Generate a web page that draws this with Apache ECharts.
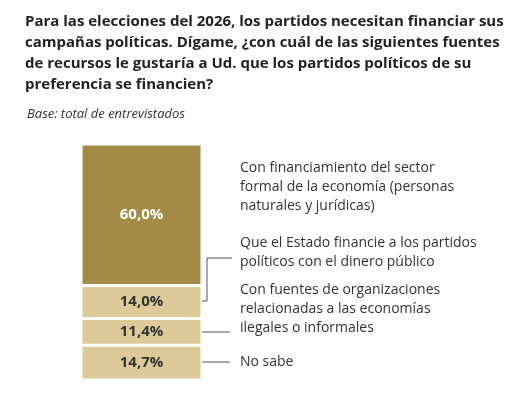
<!DOCTYPE html><html><head><meta charset="utf-8"><script src="https://cdn.jsdelivr.net/npm/echarts@6/dist/echarts.min.js"></script></head><body style="margin:0;background:#fff"><div id="c" style="width:517px;height:402px"></div><script>
const categories=['No sabe','Con fuentes de organizaciones\nrelacionadas a las economías\nilegales o informales','Que el Estado financie a los partidos\npolíticos con el dinero público','Con financiamiento del sector\nformal de la economía (personas\nnaturales y jurídicas)'];
const values=[14.7,11.4,14.0,60.0];
const labels=['14,7%','11,4%','14,0%','60,0%'];
const ch=echarts.init(document.getElementById('c'));
const series=values.map((v,i)=>({type:'bar',stack:'a',barWidth:'100%',data:[v],
 itemStyle:{color:i==3?'#a38a45':'#dccb98',borderColor:'#fff',borderWidth:1.5},
 label:{show:true,position:'inside',formatter:labels[i],fontFamily:'Open Sans',fontWeight:'bold',fontSize:15,color:i==3?'#fff':'#333'}}));
ch.setOption({animation:false,
 title:[{text:'Para las elecciones del 2026, los partidos necesitan financiar sus\ncampañas políticas. Dígame, ¿con cuál de las siguientes fuentes\nde recursos le gustaría a Ud. que los partidos políticos de su\npreferencia se financien?',left:20,top:6,textStyle:{fontFamily:'Open Sans',fontSize:15,fontWeight:'bold',color:'#222',lineHeight:21}},
 {text:'Base: total de entrevistados',left:22,top:103,textStyle:{fontFamily:'Open Sans',fontSize:13,fontStyle:'italic',fontWeight:'normal',color:'#333'}}],
 grid:{left:81,width:121,top:144,bottom:22},
 xAxis:{type:'category',data:[''],show:false},
 yAxis:{type:'value',min:0,max:100.1,show:false},
 series});
const T={fontFamily:'Open Sans',fontSize:14,fill:'#333',lineHeight:19};
const ln=(pts)=>({type:'polyline',shape:{points:pts},style:{stroke:'#555',lineWidth:1,fill:null}});
ch.setOption({graphic:[
 {type:'text',left:240,top:159,style:Object.assign({text:categories[3]},T)},
 {type:'text',left:240,top:234,style:Object.assign({text:categories[2]},T)},
 {type:'text',left:240,top:281,style:Object.assign({text:categories[1]},T)},
 {type:'text',left:240,top:353,style:Object.assign({text:categories[0]},T)},
 ln([[202,301],[207,301],[207,258],[232,258]]),
 ln([[202,332],[230,332]]),
 ln([[202,362],[230,362]])
]});
</script></body></html>
